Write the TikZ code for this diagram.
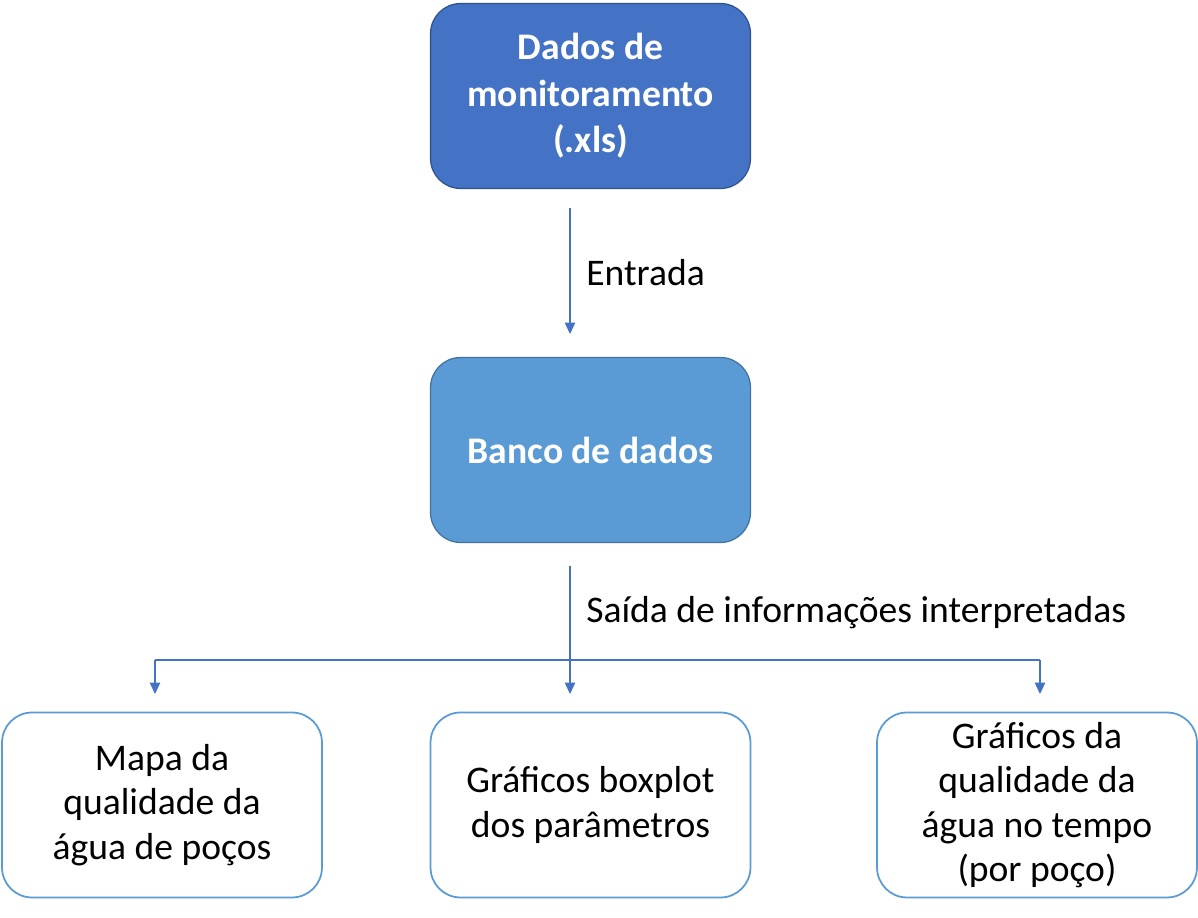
\documentclass[tikz,border=0pt]{standalone}
\usepackage{fontspec}
\setmainfont{Carlito}
\usetikzlibrary{arrows.meta}
\definecolor{darkfill}{HTML}{4472C4}
\definecolor{darkborder}{HTML}{2F528F}
\definecolor{midfill}{HTML}{5B9BD5}
\definecolor{midborder}{HTML}{41719C}
\definecolor{lineblue}{HTML}{4472C4}
\tikzset{
  px/.style={x=0.02cm,y=-0.02cm},
  boxbase/.style={rounded corners=0.6cm, minimum width=6.4cm, minimum height=3.7cm, align=center, font=\fontsize{21.4}{25.2}\selectfont, inner sep=0pt, line width=0.7pt},
  topbox/.style={boxbase, fill=darkfill, draw=darkborder, text=white, font=\fontsize{21.4}{26.4}\selectfont\bfseries},
  midbox/.style={boxbase, fill=midfill, draw=midborder, text=white, font=\fontsize{21.4}{26.4}\selectfont\bfseries},
  outbox/.style={boxbase, fill=white, draw=midfill, line width=1pt},
  conn/.style={draw=lineblue, line width=0.6pt, -{Triangle[width=6pt,length=6.5pt]}},
  lbl/.style={font=\fontsize{21.4}{25.2}\selectfont, anchor=west, inner sep=0pt}
}
\begin{document}
\begin{tikzpicture}[px]
\useasboundingbox (0,0) rectangle (1198,918);
\node[topbox] (dados) at (590.5,96) {Dados de\\monitoramento\\(.xls)};
\node[midbox] (banco) at (590.5,450) {Banco de dados};
\node[outbox] (mapa) at (162,805) {Mapa da\\qualidade da\\água de poços};
\node[outbox] (box) at (590.5,805) {Gráficos boxplot\\dos parâmetros};
\node[outbox] (graf) at (1037,805) {Gráficos da\\qualidade da\\água no tempo\\(por poço)};
\coordinate (a1s) at (570,208);
\coordinate (a1e) at (570,334);
\coordinate (a2s) at (570,566);
\coordinate (a2e) at (570,694);
\coordinate (jl) at (155,660);
\coordinate (jr) at (1040,660);
\coordinate (le) at (155,694);
\coordinate (re) at (1040,694);
\draw[conn] (a1s) -- (a1e);
\draw[conn] (a2s) -- (a2e);
\draw[conn] (jl) -- (le);
\draw[conn] (jr) -- (re);
\draw[draw=lineblue, line width=0.6pt] (jl) -- (jr);
\node[lbl] (entrada) at (586,273) {Entrada};
\node[lbl] (saida) at (586,613) {Saída de informações interpretadas};
\end{tikzpicture}
\end{document}
